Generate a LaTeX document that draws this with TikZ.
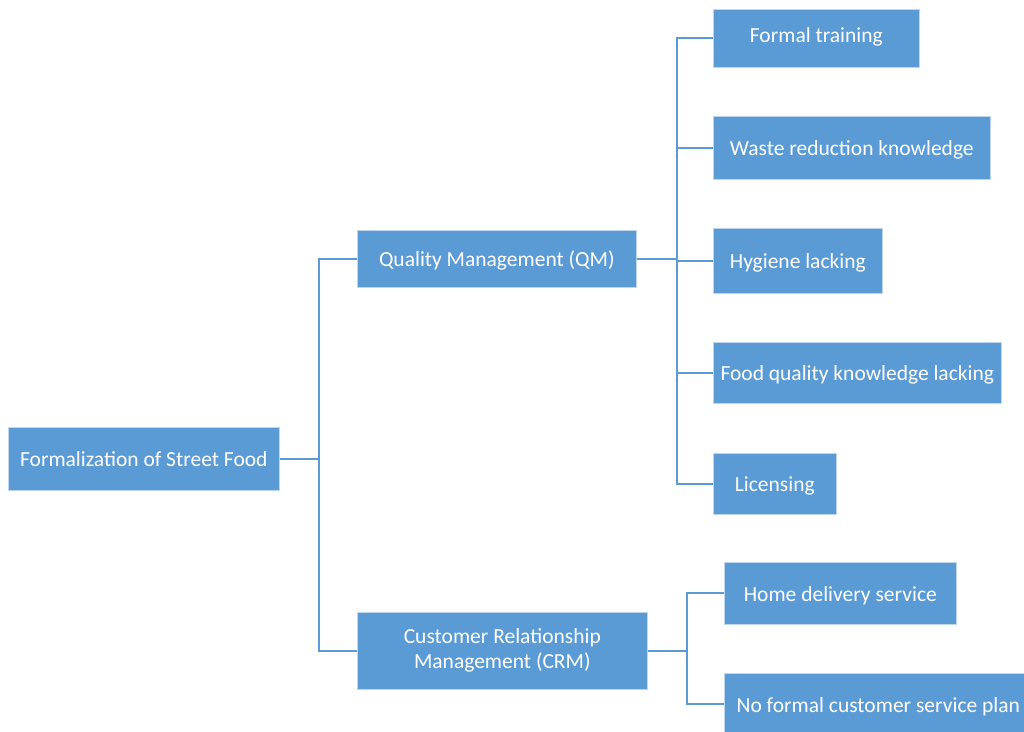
\documentclass[tikz,border=0pt]{standalone}
\usepackage{fontspec}
\setmainfont{Carlito}
\usepackage{tikz}
\usetikzlibrary{calc, positioning}
\definecolor{boxblue}{HTML}{5B9BD5}
\definecolor{boxedge}{HTML}{BDD7EE}
\definecolor{linkblue}{HTML}{5B9BD5}
\tikzstyle{topic}		=[rectangle, draw=boxedge, line width=0.6pt, fill=boxblue, text=white, inner sep=0pt, text centered, anchor=west, text height=18pt, text depth=2pt]
\tikzstyle{leaf}		=[topic]
\tikzstyle{link}		=[draw=linkblue, line width=2pt]

\begin{document}
\begin{tikzpicture}[x=1pt, y=-1pt, font=\fontsize{21.5}{25}\selectfont]

	\useasboundingbox (0,0) rectangle (1024,731);

	\node (Root)		[topic,	minimum width=271pt, minimum height=63pt]			at (8.00, 458.50)		{	Formalization of Street Food	};
	\node (QM)			[topic,	minimum width=279pt, minimum height=57pt]			at (357.00, 258.50)		{	Quality Management (QM)			};
	\node (CRM)			[topic,	minimum width=290pt, minimum height=77pt, text height=, text depth=, align=center]	at (357.00, 650.50)	{	Customer Relationship\\Management (CRM)	};

	\node (Formal)		[leaf,	minimum width=206pt, text height=33.5pt, text depth=24.5pt]	at (713.00, 38.00)	{	Formal training	};
	\node (Waste)		[leaf,	minimum width=277pt, minimum height=63pt]			at (713.00, 147.50)		{	Waste reduction knowledge		};
	\node (Hygiene)		[leaf,	minimum width=169pt, minimum height=65pt]			at (713.00, 260.50)		{	Hygiene lacking					};
	\node (Food)		[leaf,	minimum width=288pt, minimum height=61pt]			at (713.00, 372.50)		{	Food quality knowledge lacking	};
	\node (Licensing)	[leaf,	minimum width=123pt, minimum height=61pt]			at (713.00, 483.50)		{	Licensing						};

	\node (Home)		[leaf,	minimum width=232pt, minimum height=62pt]			at (724.00, 593.00)		{	Home delivery service			};
	\node (NoPlan)		[leaf,	minimum width=308pt, minimum height=62pt]			at (724.00, 704.00)		{	No formal customer service plan	};

	\foreach \child in {QM, CRM}
		\draw[link] (Root.east) -- ++(39,0) |- (\child.west);
	\foreach \child in {Formal, Waste, Hygiene, Food, Licensing}
		\draw[link] (QM.east) -- ++(40,0) |- (\child.west);
	\foreach \child in {Home, NoPlan}
		\draw[link] (CRM.east) -- ++(39,0) |- (\child.west);

\end{tikzpicture}
\end{document}
